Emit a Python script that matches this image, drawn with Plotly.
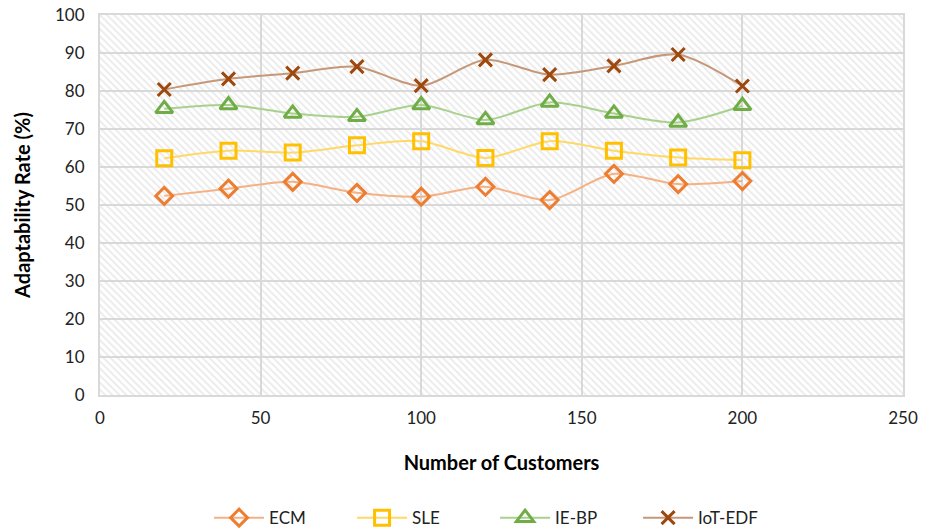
import plotly.graph_objects as go

# Number of customers on the x axis
customers = [20, 40, 60, 80, 100, 120, 140, 160, 180, 200]

# Adaptability rate (%) for each method
ecm = [52.4, 54.3, 56.1, 53.2, 52.2, 54.8, 51.3, 58.2, 55.5, 56.3]
sle = [62.3, 64.3, 63.8, 65.7, 66.8, 62.4, 66.8, 64.3, 62.5, 61.8]
ie_bp = [75.3, 76.3, 74.1, 73.2, 76.3, 72.4, 77.0, 74.1, 71.7, 76.1]
iot_edf = [80.4, 83.2, 84.7, 86.4, 81.4, 88.2, 84.3, 86.6, 89.6, 81.3]

x_range = [0, 250]
y_range = [0, 100]
x_ticks = [0, 50, 100, 150, 200, 250]
y_ticks = [0, 10, 20, 30, 40, 50, 60, 70, 80, 90, 100]

FONT = "Lato"
GRID = "#d9d9d9"

series = [
    ("ECM", ecm, "#F4B183", "#ED7D31", "diamond-open", 13),
    ("SLE", sle, "#FFD966", "#FFC000", "square-open", 15),
    ("IE-BP", ie_bp, "#A9D18E", "#70AD47", "triangle-up-open", 15),
    ("IoT-EDF", iot_edf, "#C5987A", "#9E480E", "x-thin-open", 13),
]

fig = go.Figure()

# Hatched plot-area background (transparent between strokes so the grid shows)
fig.add_trace(go.Scatter(
    x=[x_range[0], x_range[1], x_range[1], x_range[0], x_range[0]],
    y=[y_range[0], y_range[0], y_range[1], y_range[1], y_range[0]],
    mode="none",
    fill="toself",
    fillcolor="rgba(0,0,0,0)",
    fillpattern=dict(shape="\\", fgcolor="#d6d6d6", bgcolor="rgba(0,0,0,0)",
                     size=5, solidity=0.35),
    showlegend=False,
    hoverinfo="skip",
))

for name, vals, line_color, marker_color, symbol, size in series:
    fig.add_trace(go.Scatter(
        x=customers,
        y=vals,
        name=name,
        mode="lines+markers",
        line=dict(color=line_color, width=2, shape="spline", smoothing=0.8),
        marker=dict(symbol=symbol, size=size, color=marker_color,
                    line=dict(color=marker_color, width=3)),
    ))

axis_common = dict(
    showgrid=True,
    gridcolor=GRID,
    gridwidth=2,
    zeroline=False,
    showline=True,
    linecolor=GRID,
    linewidth=2,
    mirror=True,
    ticks="",
    automargin=False,
    tickfont=dict(family=FONT, size=17, color="#222222"),
)

fig.update_xaxes(
    range=x_range,
    tickvals=x_ticks,
    ticklabelstandoff=7,
    title=dict(text="<b>Number of Customers</b>",
               font=dict(family=FONT, size=20, color="black"), standoff=29),
    **axis_common,
)
fig.update_yaxes(
    range=y_range,
    tickvals=y_ticks,
    ticklabelstandoff=10,
    title=dict(text="<b>Adaptability Rate (%)</b>",
               font=dict(family=FONT, size=20, color="black"), standoff=19),
    **axis_common,
)

fig.update_layout(
    width=933,
    height=532,
    margin=dict(l=100, r=30, t=15, b=137, autoexpand=False),
    paper_bgcolor="white",
    plot_bgcolor="white",
    font=dict(family=FONT, size=17, color="#222222"),
    legend=dict(
        orientation="h",
        x=0.492,
        xanchor="center",
        y=-0.324,
        yanchor="middle",
        font=dict(family=FONT, size=17, color="#222222"),
        itemwidth=50,
        entrywidth=78,
        tracegroupgap=0,
    ),
)

fig.write_html("out.html")
